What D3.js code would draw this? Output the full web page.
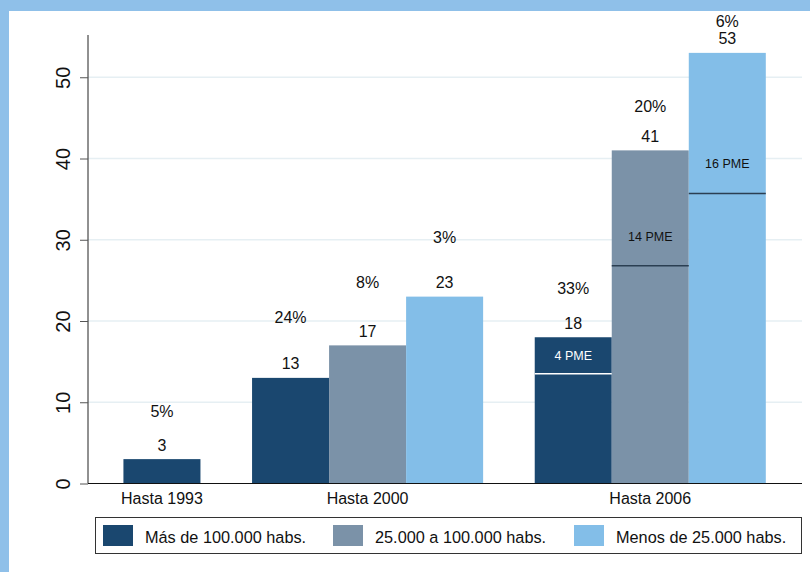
<!DOCTYPE html>
<html>
<head>
<meta charset="utf-8">
<script src="https://cdn.jsdelivr.net/npm/d3@7"></script>
<style>
  body { margin: 0; background: #fff; }
  svg { display: block; font-family: "Liberation Sans", Arial, sans-serif; }
</style>
</head>
<body>
<svg id="chart" width="810" height="572"></svg>
<script>
// Municipalities by period and population band
const periods = ["Hasta 1993", "Hasta 2000", "Hasta 2006"];
const seriesNames = ["Más de 100.000 habs.", "25.000 a 100.000 habs.", "Menos de 25.000 habs."];
const large  = [3, 13, 18];
const medium = [null, 17, 41];
const small  = [null, 23, 53];

// share labels drawn above each bar, and the height (axis units) they sit at
const largePct  = ["5%", "24%", "33%"];
const mediumPct = [null, "8%", "20%"];
const smallPct  = [null, "3%", "6%"];
const largePctAt  = [8.9, 20.5, 24.0];
const mediumPctAt = [null, 24.8, 46.4];
const smallPctAt  = [null, 30.3, 56.9];

// PME split inside the 2006 bars (large, medium, small)
const pmeCounts  = [4, 14, 16];
const pmeLine    = [13.5, 26.8, 35.7];
const pmeLabelAt = [15.7, 30.4, 39.4];

const yTicks = [0, 10, 20, 30, 40, 50];

const colors = ["#1a476f", "#7b92a8", "#83bee8"];
const frameColor = "#8fc0e9";

const svg = d3.select("#chart");

// blue frame with white plotting surface
svg.append("rect").attr("width", 810).attr("height", 572).attr("fill", frameColor);
svg.append("rect").attr("x", 9).attr("y", 11).attr("width", 801).attr("height", 561).attr("fill", "#fff");

// build the bar list
const valueSets = [large, medium, small];
const pctSets = [largePct, mediumPct, smallPct];
const pctAtSets = [largePctAt, mediumPctAt, smallPctAt];
const bars = [];
const groups = [];
const padOuter = 0.46, gap = 0.67, padEnd = 0.47;
let u = padOuter;
periods.forEach((p, gi) => {
  const start = u;
  valueSets.forEach((vals, si) => {
    if (vals[gi] == null) return;
    bars.push({ period: p, gi, si, value: vals[gi], pct: pctSets[si][gi], pctAt: pctAtSets[si][gi], u0: u });
    u += 1;
  });
  groups.push({ name: p, u0: start, u1: u });
  if (gi < periods.length - 1) u += gap;
});
const total = u + padEnd;

const x = d3.scaleLinear().domain([0, total]).range([88, 802]);
const y = d3.scaleLinear().domain([0, 55.2]).range([483.5, 35]);

// gridlines
svg.append("g")
  .selectAll("line")
  .data(yTicks.filter(t => t > 0))
  .join("line")
  .attr("x1", x(0)).attr("x2", x(total))
  .attr("y1", d => y(d)).attr("y2", d => y(d))
  .attr("stroke", "#e6eff3").attr("stroke-width", 1.5);

// bars
svg.append("g")
  .selectAll("rect")
  .data(bars)
  .join("rect")
  .attr("x", d => x(d.u0))
  .attr("width", d => x(d.u0 + 1) - x(d.u0))
  .attr("y", d => y(d.value))
  .attr("height", d => y(0) - y(d.value))
  .attr("fill", d => colors[d.si]);

// PME divisions within the 2006 bars
const last = bars.filter(d => d.gi === 2);
svg.append("g")
  .selectAll("line")
  .data(last)
  .join("line")
  .attr("x1", d => x(d.u0)).attr("x2", d => x(d.u0 + 1))
  .attr("y1", d => y(pmeLine[d.si])).attr("y2", d => y(pmeLine[d.si]))
  .attr("stroke", d => d.si === 0 ? "#ffffff" : "#2b3f52")
  .attr("stroke-width", 1.5);

svg.append("g")
  .selectAll("text")
  .data(last)
  .join("text")
  .attr("x", d => x(d.u0 + 0.5))
  .attr("y", d => y(pmeLabelAt[d.si]))
  .attr("dy", "0.35em")
  .attr("text-anchor", "middle")
  .attr("font-size", 12.5)
  .attr("fill", d => d.si === 0 ? "#ffffff" : "#111")
  .text(d => pmeCounts[d.si] + " PME");

// value labels
svg.append("g")
  .selectAll("text")
  .data(bars)
  .join("text")
  .attr("x", d => x(d.u0 + 0.5))
  .attr("y", d => y(d.value) - 14)
  .attr("dy", "0.35em")
  .attr("text-anchor", "middle")
  .attr("font-size", 16)
  .attr("fill", "#111")
  .text(d => d.value);

// share labels
svg.append("g")
  .selectAll("text")
  .data(bars)
  .join("text")
  .attr("x", d => x(d.u0 + 0.5))
  .attr("y", d => y(d.pctAt))
  .attr("dy", "0.35em")
  .attr("text-anchor", "middle")
  .attr("font-size", 16)
  .attr("fill", "#111")
  .text(d => d.pct);

// y axis
const yAxis = svg.append("g")
  .attr("transform", `translate(${x(0)},0)`)
  .call(d3.axisLeft(y).tickValues(yTicks).tickSize(8).tickFormat(d3.format("d")));
yAxis.select(".domain").attr("stroke", "#222").attr("d", `M0,${y(0)}V${y(55.2)}`);
yAxis.selectAll(".tick line").attr("stroke", "#555");
yAxis.selectAll(".tick text")
  .attr("font-size", 20)
  .attr("font-family", "Liberation Sans, Arial, sans-serif")
  .attr("fill", "#111")
  .attr("text-anchor", "middle")
  .attr("transform", "translate(-25,0) rotate(-90)")
  .attr("x", 0)
  .attr("dy", "0.35em");

// x axis baseline and period labels
svg.append("line")
  .attr("x1", x(0)).attr("x2", x(total))
  .attr("y1", y(0)).attr("y2", y(0))
  .attr("stroke", "#111").attr("stroke-width", 1.2);

svg.append("g")
  .selectAll("text")
  .data(groups)
  .join("text")
  .attr("x", d => x((d.u0 + d.u1) / 2))
  .attr("y", 498)
  .attr("dy", "0.35em")
  .attr("text-anchor", "middle")
  .attr("font-size", 16)
  .attr("fill", "#111")
  .text(d => d.name);

// legend
const legend = svg.append("g");
legend.append("rect")
  .attr("x", 95.5).attr("y", 517.5).attr("width", 706).attr("height", 36)
  .attr("fill", "#fff").attr("stroke", "#333").attr("stroke-width", 1);
const keyX = [103, 333, 574];
seriesNames.forEach((name, i) => {
  legend.append("rect")
    .attr("x", keyX[i]).attr("y", 525).attr("width", 30).attr("height", 21)
    .attr("fill", colors[i]);
  legend.append("text")
    .attr("x", keyX[i] + 42).attr("y", 537)
    .attr("dy", "0.35em")
    .attr("font-size", 16.3)
    .attr("fill", "#111")
    .text(name);
});
</script>
</body>
</html>
